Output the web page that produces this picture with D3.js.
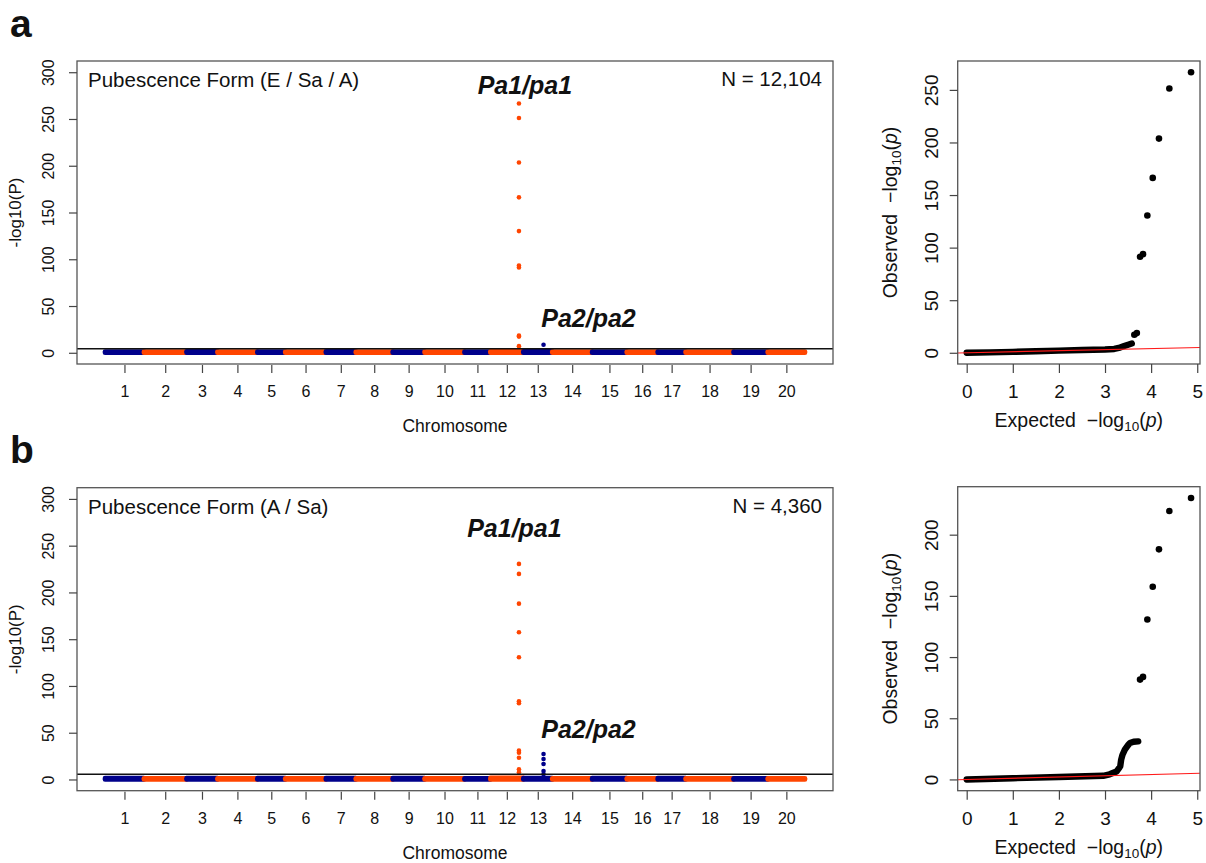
<!DOCTYPE html>
<html>
<head>
<meta charset="utf-8">
<script src="https://cdn.jsdelivr.net/npm/d3@7"></script>
<style>
  body { margin: 0; background: #fff; }
  text { font-family: "Liberation Sans", Arial, Helvetica, sans-serif; fill: #111; }
</style>
</head>
<body>
<svg id="fig" width="1206" height="863"></svg>
<script>
// chromosomes and their (approximate) lengths along the x axis, Mb
var chromosomes = d3.range(1, 21);
var chrLengthMb = [52.7, 57.7, 41.9, 54.0, 37.8, 55.0, 40.5, 50.0, 43.2, 54.0,
                   35.1, 44.6, 39.2, 54.0, 46.9, 41.9, 37.8, 64.9, 46.3, 50.5];

// upper edge of the dense background band of SNPs, per chromosome (-log10 P)
var bgMaxA = [1.4, 1.2, 1.6, 1.3, 1.2, 1.4, 1.5, 1.2, 1.3, 1.4, 1.2, 1.6, 1.5, 1.3, 1.2, 1.3, 1.4, 1.3, 1.2, 1.4];
var bgMaxB = [1.5, 1.3, 1.4, 1.2, 1.4, 1.3, 1.5, 1.3, 1.4, 1.3, 1.2, 1.7, 1.6, 1.3, 1.4, 1.2, 1.5, 1.3, 1.3, 1.2];

// significant hits (chromosome 12 = Pa1, chromosome 13 = Pa2)
var pa1PosMb = 38.7, pa2PosMb = 27.4;
var pa1LogPA = [266.5, 251, 203.4, 166.2, 130.1, 93.2, 91.3, 18.3, 17.3, 7.1];
var pa2LogPA = [8.6];
var pa1LogPB = [230.5, 219.8, 188, 157.4, 130.7, 83.6, 81.5, 30.8, 28.7, 23.3, 10.9, 7.7];
var pa2LogPB = [27.3, 21.9, 16.6, 9.1, 5.5];
var thresholdA = 4.3, thresholdB = 5.6;
var manhattanTicks = [0, 50, 100, 150, 200, 250, 300];

// QQ plots: dense body of the curve (expected, observed) and the single tail points
var qqBodyExpA = [0, 0.5, 1, 1.5, 2, 2.5, 3, 3.2, 3.3, 3.4, 3.5, 3.58];
var qqBodyObsA = [0, 0.4, 0.9, 1.5, 2, 2.6, 3.1, 3.6, 4.6, 6.2, 7.7, 8.8];
var qqTailExpA = [4.866, 4.395, 4.17, 4.035, 3.918, 3.824, 3.76, 3.69, 3.636];
var qqTailObsA = [266.8, 251.3, 203.7, 166.3, 130.5, 93.8, 91.3, 18.7, 17.1];
var qqBodyExpB = [0, 1, 2, 2.96, 3.1, 3.25, 3.3, 3.33, 3.35, 3.38, 3.43, 3.5, 3.54, 3.62, 3.72];
var qqBodyObsB = [0, 1, 2, 3.0, 4.2, 6.5, 9, 10.7, 16.1, 20.2, 24.3, 28, 29.8, 30.8, 31.1];
var qqTailExpB = [4.866, 4.395, 4.17, 4.035, 3.918, 3.824, 3.76];
var qqTailObsB = [230, 219.3, 188, 157.4, 130.7, 83.8, 81.6];
var qqXTicks = [0, 1, 2, 3, 4, 5];
var qqYTicksA = [0, 50, 100, 150, 200, 250];
var qqYTicksB = [0, 50, 100, 150, 200];

(function() {
    'use strict';
    var svg = d3.select('#fig'),
        BLUE = '#00008b', ORANGE = '#ff4500', R = 2.3,
        offsets = [], genomeMb = 0;

    chrLengthMb.forEach(function(len) { offsets.push(genomeMb); genomeMb += len; });

    var styleAxis = function(a) {
        a.select('.domain').remove();
        a.selectAll('.tick line').attr('stroke', '#444').attr('stroke-width', 1.2);
    };

    var manhattan = function(p) {
        var b = p.box, g = svg.append('g');
        var x = d3.scaleLinear().domain([-0.04 * genomeMb, 1.04 * genomeMb]).range([b[0], b[2]]);
        var y = d3.scaleLinear().domain([-12, 312]).range([b[3], b[1]]);
        var colour = function(i) { return i % 2 ? ORANGE : BLUE; };

        // dense background SNPs drawn as one band per chromosome
        g.selectAll('.band').data(chromosomes).enter().append('rect')
            .attr('class', 'band')
            .attr('x', function(d, i) { return x(offsets[i]) - R; })
            .attr('width', function(d, i) { return x(offsets[i] + chrLengthMb[i]) - x(offsets[i]) + 2 * R; })
            .attr('y', function(d, i) { return y(p.bgMax[i]) - R; })
            .attr('height', function(d, i) { return y(0) - y(p.bgMax[i]) + 2 * R; })
            .attr('rx', R)
            .attr('fill', function(d, i) { return colour(i); });

        [[12, pa1PosMb, p.pa1], [13, pa2PosMb, p.pa2]].forEach(function(h) {
            g.selectAll(null).data(h[2]).enter().append('circle')
                .attr('cx', x(offsets[h[0] - 1] + h[1]))
                .attr('cy', function(d) { return y(d); })
                .attr('r', R)
                .attr('fill', colour(h[0] - 1));
        });

        g.append('line')
            .attr('x1', b[0]).attr('x2', b[2])
            .attr('y1', y(p.threshold)).attr('y2', y(p.threshold))
            .attr('stroke', '#111').attr('stroke-width', 1.5);

        g.append('rect')
            .attr('x', b[0]).attr('y', b[1]).attr('width', b[2] - b[0]).attr('height', b[3] - b[1])
            .attr('fill', 'none').attr('stroke', '#555').attr('stroke-width', 1.3);

        // y axis, labels rotated as in R
        g.append('g').attr('transform', 'translate(' + b[0] + ',0)')
            .call(d3.axisLeft(y).tickValues(manhattanTicks).tickSize(8))
            .call(styleAxis)
            .selectAll('text')
            .attr('transform', 'rotate(-90)').attr('x', 0).attr('y', -29).attr('dy', '0.35em')
            .attr('text-anchor', 'middle').attr('fill', '#222').style('font-size', '16px');

        var mids = chromosomes.map(function(c, i) { return offsets[i] + chrLengthMb[i] / 2; });
        g.append('g').attr('transform', 'translate(0,' + (b[3] + 1) + ')')
            .call(d3.axisBottom(x).tickValues(mids).tickSize(8)
                .tickFormat(function(d, i) { return chromosomes[i]; }))
            .call(styleAxis)
            .selectAll('text')
            .attr('y', 32).attr('dy', 0).attr('fill', '#222').style('font-size', '16px');

        g.append('text').attr('x', (b[0] + b[2]) / 2).attr('y', b[3] + 68)
            .attr('text-anchor', 'middle').style('font-size', '17.5px').text('Chromosome');
        g.append('text')
            .attr('transform', 'translate(21,' + (b[1] + b[3]) / 2 + ') rotate(-90)')
            .attr('text-anchor', 'middle').style('font-size', '17px').text('-log10(P)');

        g.append('text').attr('x', b[0] + 11).attr('y', b[1] + 26)
            .style('font-size', '20.5px').text(p.title);
        g.append('text').attr('x', b[2] - 11).attr('y', b[1] + 25)
            .attr('text-anchor', 'end').style('font-size', '20.5px').text(p.n);

        [['Pa1/pa1', 12, pa1PosMb, p.pa1Label], ['Pa2/pa2', 13, pa2PosMb, p.pa2Label]].forEach(function(l) {
            g.append('text')
                .attr('x', x(offsets[l[1] - 1] + l[2]) + l[3][0])
                .attr('y', y(l[3][1]))
                .attr('text-anchor', 'middle')
                .style('font-size', '25px').style('font-weight', 'bold').style('font-style', 'italic')
                .text(l[0]);
        });

        g.append('text').attr('x', 10).attr('y', p.letterY)
            .style('font-size', '39px').style('font-weight', 'bold').text(p.letter);
    };

    var qq = function(p) {
        var b = p.box, g = svg.append('g');
        var x = d3.scaleLinear().domain([-0.195, 5.06]).range([b[0], b[2]]);
        var yMax = d3.max(p.tailObs);
        var y = d3.scaleLinear().domain([-0.04 * yMax, 1.04 * yMax]).range([b[3], b[1]]);

        g.append('path')
            .datum(d3.zip(p.bodyExp, p.bodyObs))
            .attr('d', d3.line().x(function(d) { return x(d[0]); }).y(function(d) { return y(d[1]); }))
            .attr('fill', 'none').attr('stroke', '#000').attr('stroke-width', 6.4)
            .attr('stroke-linecap', 'round').attr('stroke-linejoin', 'round');

        g.selectAll(null).data(d3.zip(p.tailExp, p.tailObs)).enter().append('circle')
            .attr('cx', function(d) { return x(d[0]); })
            .attr('cy', function(d) { return y(d[1]); })
            .attr('r', 3.3).attr('fill', '#000');

        // y = x reference line across the plot region
        var xd = x.domain();
        g.append('line')
            .attr('x1', x(xd[0])).attr('y1', y(xd[0]))
            .attr('x2', x(xd[1])).attr('y2', y(xd[1]))
            .attr('stroke', '#ff1a1a').attr('stroke-width', 1.1);

        g.append('rect')
            .attr('x', b[0]).attr('y', b[1]).attr('width', b[2] - b[0]).attr('height', b[3] - b[1])
            .attr('fill', 'none').attr('stroke', '#555').attr('stroke-width', 1.3);

        g.append('g').attr('transform', 'translate(' + b[0] + ',0)')
            .call(d3.axisLeft(y).tickValues(p.yTicks).tickSize(8).tickFormat(d3.format('d')))
            .call(styleAxis)
            .selectAll('text')
            .attr('transform', 'rotate(-90)').attr('x', 0).attr('y', -26).attr('dy', '0.35em')
            .attr('text-anchor', 'middle').attr('fill', '#222').style('font-size', '19px');

        g.append('g').attr('transform', 'translate(0,' + b[3] + ')')
            .call(d3.axisBottom(x).tickValues(qqXTicks).tickSize(9).tickFormat(d3.format('d')))
            .call(styleAxis)
            .selectAll('text')
            .attr('y', 34).attr('dy', 0).attr('fill', '#222').style('font-size', '19px');

        var label = function(t, word) {
            t.style('font-size', '19.5px').style('white-space', 'pre').attr('text-anchor', 'middle');
            t.append('tspan').text(word + '  \u2212log');
            t.append('tspan').attr('dy', 4).style('font-size', '13.5px').text('10');
            t.append('tspan').attr('dy', -4).text('(');
            t.append('tspan').style('font-style', 'italic').text('p');
            t.append('tspan').text(')');
        };
        g.append('text').attr('x', (b[0] + b[2]) / 2).attr('y', b[3] + 63).call(label, 'Expected');
        g.append('text')
            .attr('transform', 'translate(' + (b[0] - 61) + ',' + (b[1] + b[3]) / 2 + ') rotate(-90)')
            .call(label, 'Observed');
    };

    manhattan({
        box: [77, 61, 833, 364], bgMax: bgMaxA, pa1: pa1LogPA, pa2: pa2LogPA, threshold: thresholdA,
        title: 'Pubescence Form (E / Sa / A)', n: 'N = 12,104',
        pa1Label: [6, 277], pa2Label: [45, 27.4], letter: 'a', letterY: 37
    });
    manhattan({
        box: [77, 487.7, 833, 790.7], bgMax: bgMaxB, pa1: pa1LogPB, pa2: pa2LogPB, threshold: thresholdB,
        title: 'Pubescence Form (A / Sa)', n: 'N = 4,360',
        pa1Label: [-4.5, 259], pa2Label: [45, 44], letter: 'b', letterY: 463
    });
    qq({ box: [957.7, 61, 1200, 364], bodyExp: qqBodyExpA, bodyObs: qqBodyObsA,
         tailExp: qqTailExpA, tailObs: qqTailObsA, yTicks: qqYTicksA });
    qq({ box: [957.7, 486.7, 1200, 790.7], bodyExp: qqBodyExpB, bodyObs: qqBodyObsB,
         tailExp: qqTailExpB, tailObs: qqTailObsB, yTicks: qqYTicksB });
}());
</script>
</body>
</html>
